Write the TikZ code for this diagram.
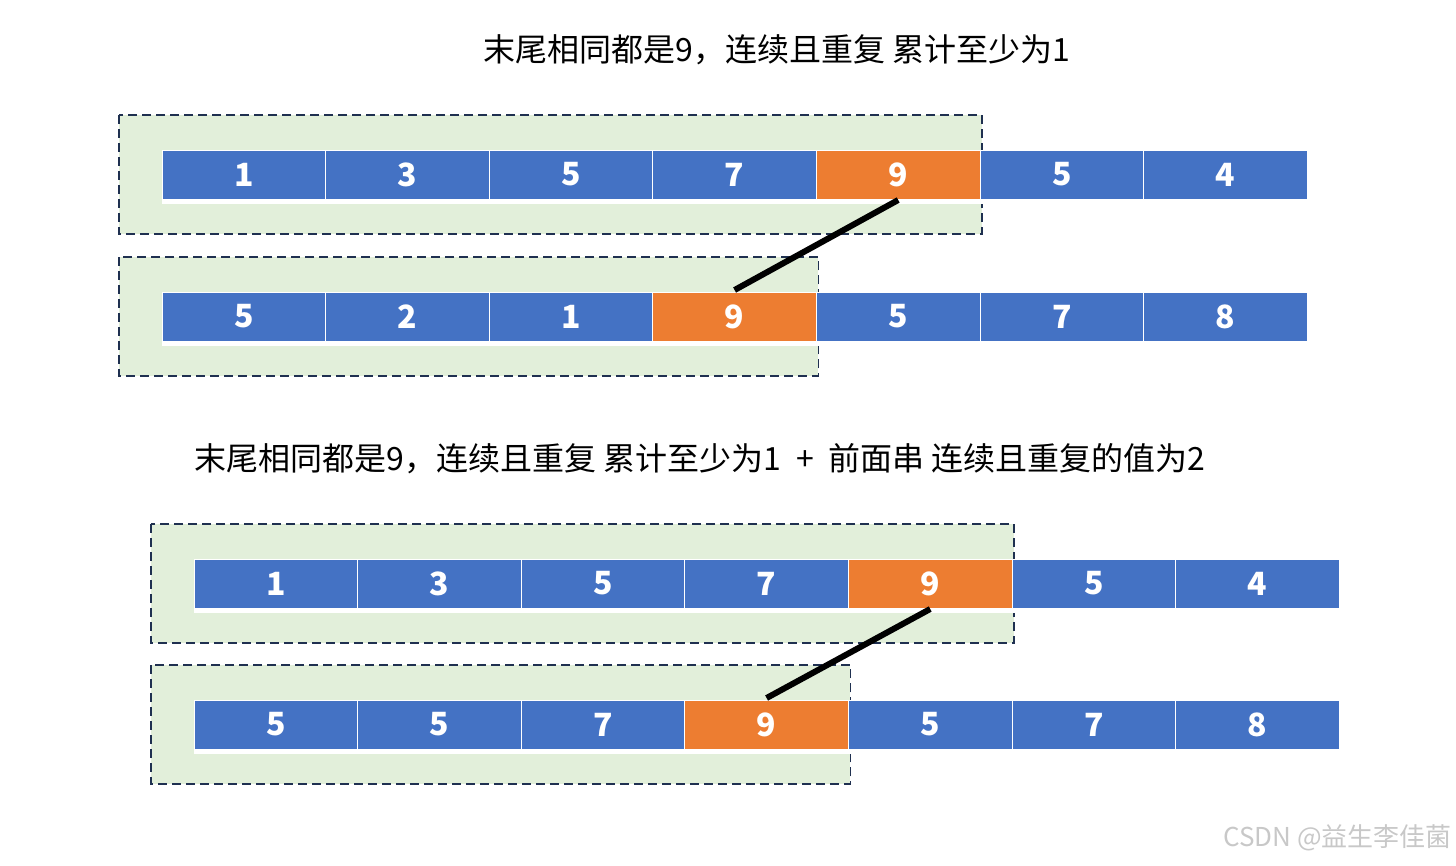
\documentclass[tikz,border=0pt]{standalone}
\usepackage{fontspec}
\setmainfont{Noto Sans CJK SC}
\usepackage{tikz}
\usetikzlibrary{backgrounds}
\definecolor{cellblue}{HTML}{4472C4}
\definecolor{hot}{HTML}{ED7D31}
\definecolor{paleg}{HTML}{E2EFDA}
\definecolor{navy}{HTML}{1F3050}
\definecolor{mark}{HTML}{C8C8C8}

\begin{document}
\begin{tikzpicture}[
  x=1pt,y=-1pt,
  cell/.style={fill=cellblue,draw=white,line width=1pt,outer sep=0pt,
    minimum width=163.6pt,minimum height=49pt,inner sep=0pt,
    text=white,font=\fontsize{32}{36}\selectfont\bfseries},
  grp/.style={fill=paleg,draw=navy,line width=1.8pt,dash pattern=on 9pt off 5pt},
  under/.style={draw=white,line width=4pt},
  link/.style={draw=black,line width=6pt},
  title/.style={font=\fontsize{32}{38}\selectfont,inner sep=0pt},
]
\useasboundingbox (0,0) rectangle (1456,865);

% --- first example
\node[title] (t1) at (777,50) {末尾相同都是9，连续且重复 累计至少为1};
\foreach \v/\c [count=\i] in {1/cellblue,3/cellblue,5/cellblue,7/cellblue,9/hot,5/cellblue,4/cellblue}
  \node[cell,fill=\c] (a\i) at ({80.2+163.6*\i},174.5) {\v};
\foreach \v/\c [count=\i] in {5/cellblue,2/cellblue,1/cellblue,9/hot,5/cellblue,7/cellblue,8/cellblue}
  \node[cell,fill=\c] (b\i) at ({80.2+163.6*\i},316.5) {\v};
\begin{scope}[on background layer]
\draw[grp] ([xshift=-43pt,yshift=35pt]a1.north west) rectangle ([xshift=2pt,yshift=-35pt]a5.south east);
\draw[grp] ([xshift=-43pt,yshift=35pt]b1.north west) rectangle ([xshift=2pt,yshift=-35pt]b4.south east);
\end{scope}
\draw[under] ([yshift=-2.5pt]a1.south west) -- ([yshift=-2.5pt]a7.south east);
\draw[under] ([yshift=-2.5pt]b1.south west) -- ([yshift=-2.5pt]b7.south east);
\draw[link] ([yshift=-1pt]a5.south) -- ([yshift=2pt]b4.north);

% --- second example
\node[title] (t2) at (700,459) {末尾相同都是9，连续且重复 累计至少为1\ \ +\ \ 前面串 连续且重复的值为2};
\foreach \v/\c [count=\i] in {1/cellblue,3/cellblue,5/cellblue,7/cellblue,9/hot,5/cellblue,4/cellblue}
  \node[cell,fill=\c] (c\i) at ({112.2+163.6*\i},583.5) {\v};
\foreach \v/\c [count=\i] in {5/cellblue,5/cellblue,7/cellblue,9/hot,5/cellblue,7/cellblue,8/cellblue}
  \node[cell,fill=\c] (d\i) at ({112.2+163.6*\i},724.5) {\v};
\begin{scope}[on background layer]
\draw[grp] ([xshift=-43pt,yshift=35pt]c1.north west) rectangle ([xshift=2pt,yshift=-35pt]c5.south east);
\draw[grp] ([xshift=-43pt,yshift=35pt]d1.north west) rectangle ([xshift=2pt,yshift=-35pt]d4.south east);
\end{scope}
\draw[under] ([yshift=-2.5pt]c1.south west) -- ([yshift=-2.5pt]c7.south east);
\draw[under] ([yshift=-2.5pt]d1.south west) -- ([yshift=-2.5pt]d7.south east);
\draw[link] ([yshift=-1pt]c5.south) -- ([yshift=2pt]d4.north);

\node[font=\fontsize{26}{30}\selectfont,text=mark,anchor=east,inner sep=0pt] (wm) at (1452,838) {CSDN @益生李佳菌};
\end{tikzpicture}
\end{document}
